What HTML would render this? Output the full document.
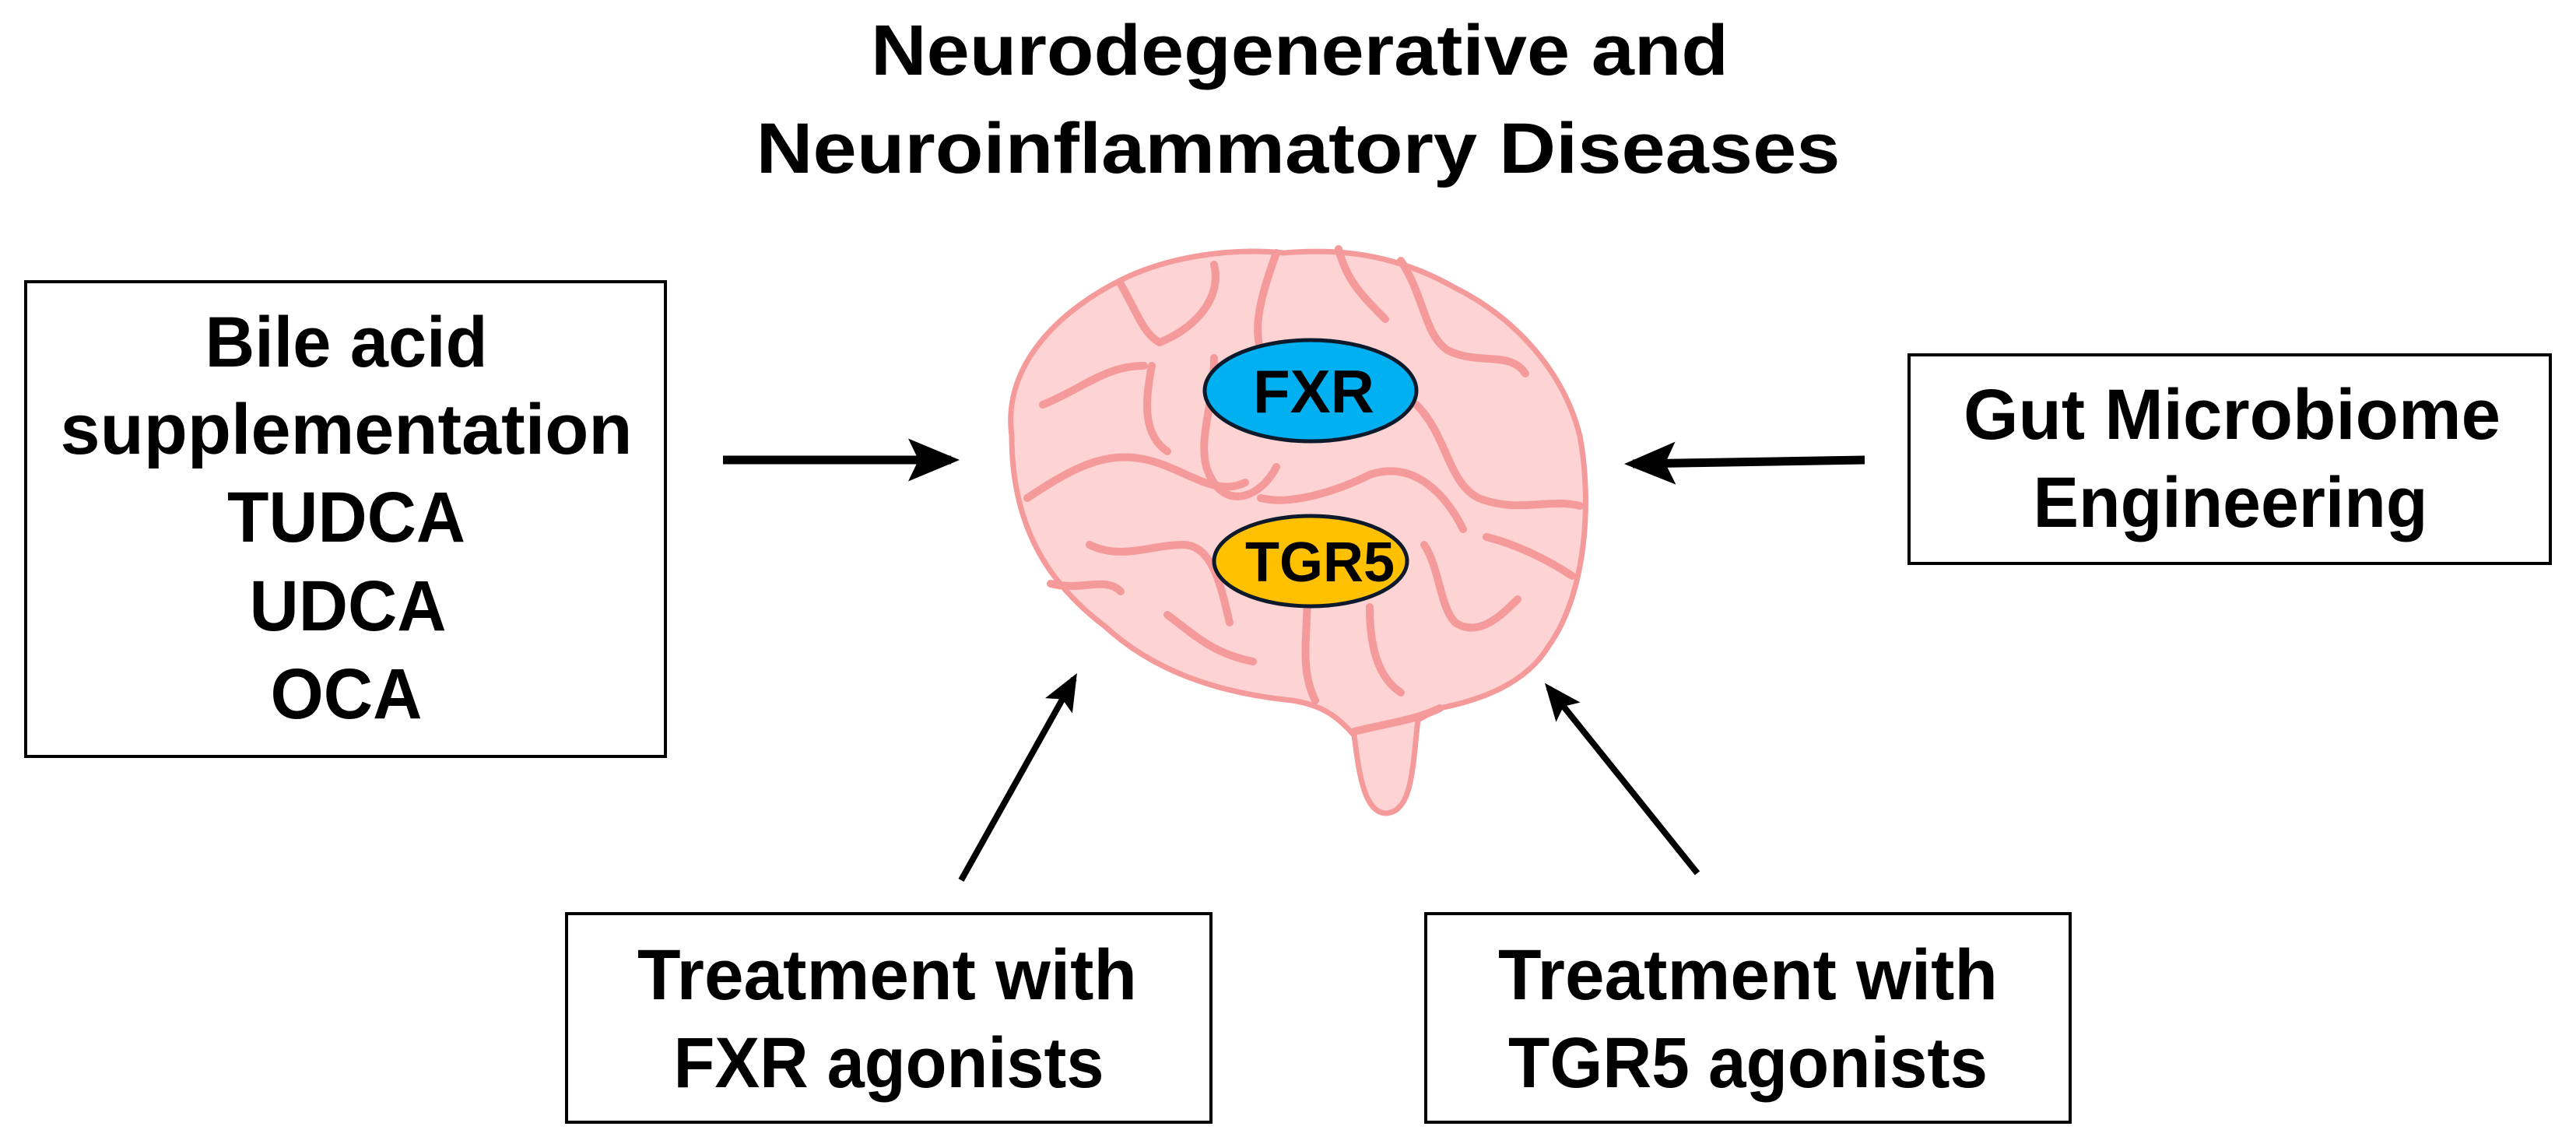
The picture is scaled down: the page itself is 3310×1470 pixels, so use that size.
<!DOCTYPE html>
<html><head><meta charset="utf-8"><style>
html,body{margin:0;padding:0;background:#fff;}
svg{display:block;}
text{font-family:"Liberation Sans",sans-serif;font-weight:bold;fill:#000;}
</style></head><body>
<svg width="3310" height="1470" viewBox="0 0 3310 1470" xmlns="http://www.w3.org/2000/svg">
<defs>
<marker id="ah" markerWidth="6" markerHeight="6" refX="5" refY="3" orient="auto" markerUnits="strokeWidth">
<path d="M0,0.5 L6,3 L0,5.5 L1.2,3 Z" fill="#000"/>
</marker>
</defs>
<!-- title -->
<text x="1670" y="96" font-size="92" text-anchor="middle" textLength="1102" lengthAdjust="spacingAndGlyphs">Neurodegenerative and</text>
<text x="1668" y="222" font-size="92" text-anchor="middle" textLength="1393" lengthAdjust="spacingAndGlyphs">Neuroinflammatory Diseases</text>

<!-- boxes -->
<rect x="33" y="362" width="822" height="610" fill="none" stroke="#000" stroke-width="4"/>
<text x="445" y="471" font-size="92" text-anchor="middle" textLength="363" lengthAdjust="spacingAndGlyphs">Bile acid</text>
<text x="445" y="583" font-size="92" text-anchor="middle" textLength="735" lengthAdjust="spacingAndGlyphs">supplementation</text>
<text x="445" y="696" font-size="92" text-anchor="middle" textLength="306" lengthAdjust="spacingAndGlyphs">TUDCA</text>
<text x="447" y="810" font-size="92" text-anchor="middle" textLength="253" lengthAdjust="spacingAndGlyphs">UDCA</text>
<text x="445" y="923" font-size="92" text-anchor="middle" textLength="195" lengthAdjust="spacingAndGlyphs">OCA</text>

<rect x="2453" y="456" width="824" height="268" fill="none" stroke="#000" stroke-width="4"/>
<text x="2868" y="564" font-size="92" text-anchor="middle" textLength="690" lengthAdjust="spacingAndGlyphs">Gut Microbiome</text>
<text x="2866" y="677" font-size="92" text-anchor="middle" textLength="507" lengthAdjust="spacingAndGlyphs">Engineering</text>

<rect x="728" y="1174" width="828" height="268" fill="none" stroke="#000" stroke-width="4"/>
<text x="1140" y="1284" font-size="92" text-anchor="middle" textLength="642" lengthAdjust="spacingAndGlyphs">Treatment with</text>
<text x="1142" y="1397" font-size="92" text-anchor="middle" textLength="553" lengthAdjust="spacingAndGlyphs">FXR agonists</text>

<rect x="1832" y="1174" width="828" height="268" fill="none" stroke="#000" stroke-width="4"/>
<text x="2246" y="1284" font-size="92" text-anchor="middle" textLength="642" lengthAdjust="spacingAndGlyphs">Treatment with</text>
<text x="2246" y="1397" font-size="92" text-anchor="middle" textLength="616" lengthAdjust="spacingAndGlyphs">TGR5 agonists</text>

<!-- arrows -->
<line x1="929" y1="591" x2="1222" y2="591" stroke="#000" stroke-width="11" marker-end="url(#ah)"/>
<line x1="2396" y1="591" x2="2098" y2="596" stroke="#000" stroke-width="11" marker-end="url(#ah)"/>
<line x1="1235" y1="1131" x2="1380" y2="872" stroke="#000" stroke-width="8" marker-end="url(#ah)"/>
<line x1="2181" y1="1122" x2="1990" y2="884" stroke="#000" stroke-width="8" marker-end="url(#ah)"/>

<!-- brain -->
<g stroke="#f59a9a" stroke-linecap="round" stroke-linejoin="round">
<path d="M1300,560 C1288,470 1360,400 1440,360 C1500,330 1580,318 1650,325 C1730,318 1800,330 1870,370 C1950,410 2010,480 2030,560 C2045,640 2040,760 1990,830 C1960,880 1900,900 1850,910 L1822,925 C1815,985 1815,1042 1782,1045 C1752,1046 1746,990 1740,945 C1720,922 1700,906 1660,900 C1560,890 1480,860 1420,805 C1350,752 1300,680 1300,560 Z" fill="#fdd3d3" stroke-width="7"/>
<g fill="none" stroke-width="10">
<path d="M1340,520 C1390,500 1420,470 1470,470"/>
<path d="M1440,365 C1460,400 1470,430 1490,440 C1540,420 1570,380 1560,340"/>
<path d="M1480,470 C1470,520 1470,560 1500,580"/>
<path d="M1320,640 C1380,600 1420,580 1470,590 C1520,600 1560,640 1600,620"/>
<path d="M1560,460 C1560,520 1540,560 1550,600 C1570,660 1620,640 1640,600"/>
<path d="M1640,325 C1620,380 1610,420 1620,450"/>
<path d="M1720,320 C1730,360 1750,380 1780,410"/>
<path d="M1800,335 C1830,380 1830,430 1860,450 C1900,470 1940,450 1960,480"/>
<path d="M1820,520 C1860,560 1860,620 1900,640 C1950,660 1990,640 2030,650"/>
<path d="M1620,640 C1660,650 1720,630 1760,610 C1820,590 1860,640 1880,680"/>
<path d="M1400,700 C1440,720 1480,700 1520,700 C1560,700 1570,760 1580,800"/>
<path d="M1350,750 C1390,760 1420,740 1440,760"/>
<path d="M1500,790 C1540,820 1560,840 1610,850"/>
<path d="M1680,760 C1680,820 1670,860 1690,900"/>
<path d="M1760,780 C1760,830 1770,870 1800,890"/>
<path d="M1830,700 C1850,730 1850,780 1870,800 C1900,820 1930,790 1950,770"/>
<path d="M1910,690 C1950,700 1990,720 2020,740"/>
<path d="M1740,940 C1780,930 1820,925 1850,910"/>
</g>
</g>
<ellipse cx="1684" cy="502" rx="136" ry="65" fill="#00b0f0" stroke="#0d1a2b" stroke-width="5"/>
<text x="1688" y="530" font-size="78" text-anchor="middle">FXR</text>
<ellipse cx="1684" cy="721" rx="124" ry="58" fill="#ffc000" stroke="#0d1a2b" stroke-width="5"/>
<text x="1696" y="747" font-size="72" text-anchor="middle">TGR5</text>
</svg>
</body></html>
